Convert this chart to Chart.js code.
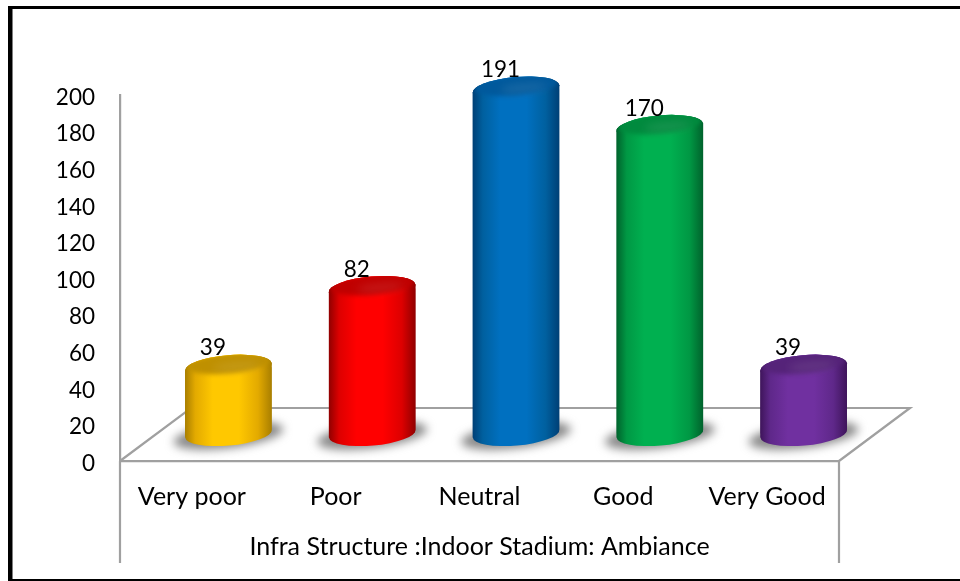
<!DOCTYPE html>
<html>
<head>
<meta charset="utf-8">
<style>html,body{margin:0;padding:0;background:#fff}canvas{display:block}</style>
<script src="https://cdn.jsdelivr.net/npm/chart.js@4"></script>
</head>
<body>
<canvas id="c" width="960" height="581"></canvas>
<script>
const categories = ["Very poor", "Poor", "Neutral", "Good", "Very Good"];
const values = [39, 82, 191, 170, 39];
const axisTitle = "Infra Structure :Indoor Stadium: Ambiance";
const edgeColors = ["#a87e00", "#8f0000", "#003f75", "#00622c", "#3e145a"];
const midColors = ["#e3aa00", "#dd0000", "#00609f", "#009844", "#5f288a"];
const sideColors = ["#ffc800", "#ff0000", "#0070c0", "#00b050", "#7030a0"];
const capColors = ["#bf9000", "#c00000", "#00599c", "#008a3e", "#552379"];
const axisColor = "#a0a0a0";
const fontFamily = "Lato";
const digitSize = 22.5;
const labelSize = 25;
const depthX = 36.5, depthY = -22.5, tilt = -5 * Math.PI / 180, capB = 12, baseValue = 2.7;

function sideGradient(ctx, cx, a, i) {
  const g = ctx.createLinearGradient(cx - a, 0, cx + a, 0);
  g.addColorStop(0, edgeColors[i]);
  g.addColorStop(0.12, midColors[i]);
  g.addColorStop(0.32, sideColors[i]);
  g.addColorStop(0.62, sideColors[i]);
  g.addColorStop(0.84, midColors[i]);
  g.addColorStop(1, edgeColors[i]);
  return g;
}

function silhouette(c, b, a) {
  c.moveTo(b.x - a * Math.cos(tilt), b.y - a * Math.sin(tilt));
  c.ellipse(b.x, b.y, a, capB, tilt, Math.PI, Math.PI * 2);
  c.ellipse(b.x, b.base, a, capB, tilt, 0, Math.PI);
  c.closePath();
}

const cylinderPlugin = {
  id: "cylinder",
  beforeDraw(chart) {
    const c = chart.ctx;
    c.save();
    c.fillStyle = "#fff";
    c.fillRect(0, 0, chart.width, chart.height);
    c.fillStyle = "#000";
    c.fillRect(8, 6, 4.5, 574);
    c.fillRect(8, 6, 952, 3);
    c.fillRect(8, 579, 952, 2);
    c.restore();
  },
  beforeDatasetDraw(chart) {
    const c = chart.ctx, { left, right, bottom } = chart.chartArea;
    const meta = chart.getDatasetMeta(0);
    // depth floor and axis extensions
    c.save();
    c.strokeStyle = axisColor;
    c.lineWidth = 2.2;
    c.lineJoin = "miter";
    c.beginPath();
    c.moveTo(left, bottom);
    c.lineTo(left + 71, bottom - 53);
    c.lineTo(right + 71, bottom - 53);
    c.lineTo(right, bottom);
    c.moveTo(left, bottom);
    c.lineTo(left, 563);
    c.moveTo(right, bottom);
    c.lineTo(right, 563);
    c.stroke();
    // floor shadows
    c.filter = "blur(5px)";
    c.fillStyle = "rgba(115,115,115,0.85)";
    meta.data.forEach(b => {
      c.beginPath();
      c.ellipse(b.x + depthX, b.base + depthY + 2, b.width / 2 + 12, capB + 0.5, -7 * Math.PI / 180, 0, Math.PI * 2);
      c.fill();
    });
    c.restore();
    // translated, silhouette-clipped bars
    c.save();
    c.translate(depthX, depthY);
    c.beginPath();
    meta.data.forEach(b => silhouette(c, b, b.width / 2 + 0.4));
    c.clip();
  },
  afterDatasetDraw(chart) {
    const c = chart.ctx;
    c.restore();
    const meta = chart.getDatasetMeta(0);
    c.save();
    c.translate(depthX, depthY);
    meta.data.forEach((b, i) => {
      const a = b.width / 2 + 0.4;
      // rounded body
      c.fillStyle = sideGradient(c, b.x, a, i);
      c.beginPath();
      silhouette(c, b, a);
      c.fill();
      // bevelled top cap
      c.save();
      c.beginPath();
      c.ellipse(b.x, b.y, a, capB, tilt, 0, Math.PI * 2);
      c.fillStyle = sideGradient(c, b.x, a, i);
      c.fill();
      c.clip();
      c.filter = "blur(2px)";
      c.fillStyle = capColors[i];
      c.beginPath();
      c.ellipse(b.x, b.y - 3.5, a - 2, capB - 2, tilt, 0, Math.PI * 2);
      c.fill();
      c.filter = "blur(4px)";
      c.fillStyle = "rgba(255,255,255,0.10)";
      c.beginPath();
      c.ellipse(b.x + 8, b.y - 1, a - 20, 4, tilt, 0, Math.PI * 2);
      c.fill();
      c.restore();
    });
    c.restore();
    // value labels
    c.save();
    c.fillStyle = "#000";
    c.font = digitSize + "px " + fontFamily;
    c.textAlign = "center";
    c.textBaseline = "middle";
    meta.data.forEach((b, i) => {
      c.fillText(String(values[i]), b.x + 21, b.y - 41.5);
    });
    c.restore();
  }
};

new Chart(document.getElementById("c"), {
  type: "bar",
  data: {
    labels: categories,
    datasets: [{
      data: values,
      base: baseValue,
      clip: false,
      barPercentage: 0.6,
      categoryPercentage: 1,
      borderWidth: 0,
      backgroundColor(ctx) {
        const sc = ctx.chart.scales.x;
        const i = ctx.dataIndex;
        if (!sc || i === undefined) return sideColors[0];
        const cx = sc.getPixelForValue(i);
        if (!Number.isFinite(cx)) return sideColors[i];
        return sideGradient(ctx.chart.ctx, cx, 43, i);
      }
    }]
  },
  plugins: [cylinderPlugin],
  options: {
    responsive: false,
    animation: false,
    layout: { padding: { left: 0, top: 95, right: 121, bottom: 0 } },
    plugins: { legend: { display: false }, tooltip: { enabled: false } },
    scales: {
      x: {
        grid: { display: false, drawTicks: false },
        border: { display: true, color: axisColor, width: 2.2 },
        ticks: { color: "#000", font: { family: fontFamily, size: labelSize }, padding: 21, maxRotation: 0 },
        title: { display: true, text: axisTitle, color: "#000", font: { family: fontFamily, size: labelSize }, padding: { top: 0, bottom: 19 } },
        afterFit(s) { s.height = 120; }
      },
      y: {
        min: 0, max: 200,
        grid: { display: false, drawTicks: false },
        border: { display: true, color: axisColor, width: 2.2 },
        ticks: { stepSize: 20, color: "#000", font: { family: fontFamily, size: digitSize }, padding: 25, labelOffset: 2.5 },
        afterFit(s) { s.width = 120; }
      }
    }
  }
});
</script>
</body>
</html>
